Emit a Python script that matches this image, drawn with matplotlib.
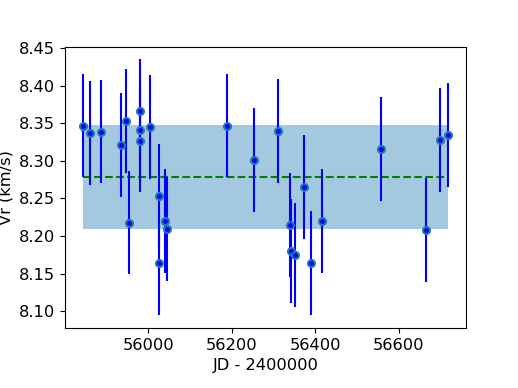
import matplotlib
matplotlib.use("Agg")
import matplotlib.pyplot as plt

# radial velocity measurements
jd = [55844, 55860, 55887, 55934, 55948, 55953, 55980, 55980, 55980, 56005,
      56026, 56026, 56041, 56045, 56188, 56254, 56312, 56339, 56342, 56352,
      56374, 56390, 56416, 56557, 56666, 56698, 56718]
vr = [8.347, 8.337, 8.339, 8.321, 8.353, 8.218, 8.366, 8.341, 8.327, 8.345,
      8.253, 8.164, 8.220, 8.209, 8.347, 8.301, 8.340, 8.215, 8.180, 8.175,
      8.265, 8.164, 8.220, 8.316, 8.208, 8.328, 8.334]
vr_err = [0.069] * len(vr)

vr_mean = 8.279
vr_std = 0.069

plt.rcParams['font.size'] = 11.7

fig = plt.figure(figsize=(5.18, 3.88), dpi=100)
fig.subplots_adjust(left=0.125, right=0.9, bottom=0.155, top=0.88)
ax = fig.add_subplot(111)

ax.fill_between([jd[0], jd[-1]], vr_mean - vr_std, vr_mean + vr_std,
                color='#1f77b4', alpha=0.4, linewidth=0)
ax.plot([jd[0], jd[-1]], [vr_mean, vr_mean], '--', color='green', linewidth=1.5)
ax.errorbar(jd, vr, yerr=vr_err, fmt='o', color='blue', ecolor='blue',
            elinewidth=1.5, markersize=5, markerfacecolor='blue',
            markeredgecolor='#1f77b4', markeredgewidth=1.5)

ax.set_xticks([56000, 56200, 56400, 56600])
ax.set_xlabel("JD - 2400000")
ax.set_ylabel("Vr (km/s)")

fig.savefig("out.png", dpi=100)
